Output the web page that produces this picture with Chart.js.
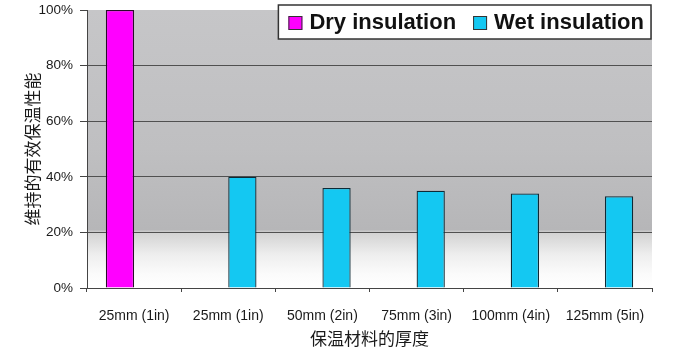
<!DOCTYPE html>
<html>
<head>
<meta charset="utf-8">
<script src="https://cdn.jsdelivr.net/npm/chart.js@4"></script>
<style>
  html, body { margin: 0; padding: 0; background: #ffffff; }
  #wrap { width: 680px; height: 356px; position: relative; }
</style>
</head>
<body>
<div id="wrap"><canvas id="c" width="680" height="356"></canvas></div>
<script>
// ---- data ----
const categories = ["25mm (1in)", "25mm (1in)", "50mm (2in)", "75mm (3in)", "100mm (4in)", "125mm (5in)"];
const dryLabel = "Dry insulation";
const wetLabel = "Wet insulation";
const dryValues = [100, null, null, null, null, null];
const wetValues = [null, 40, 36, 35, 34, 33];
const yTickValues = [0, 20, 40, 60, 80, 100];
const yTitle = "维持的有效保温性能";
const xTitle = "保温材料的厚度";

const tickFont = '"Liberation Sans", Arial, sans-serif';

// ---- plugins ----
const plotBackground = {
  id: 'plotBackground',
  beforeDraw(chart) {
    const {ctx, chartArea: a} = chart;
    const g = ctx.createLinearGradient(0, a.top, 0, a.bottom);
    g.addColorStop(0, '#c6c6c8');
    g.addColorStop(0.5, '#bfbfc1');
    g.addColorStop(0.79, '#b6b6b8');
    g.addColorStop(0.80, '#d2d2d2');
    g.addColorStop(0.88, '#eeeeee');
    g.addColorStop(0.95, '#fbfbfb');
    g.addColorStop(1, '#ffffff');
    ctx.save();
    ctx.fillStyle = g;
    ctx.fillRect(a.left, a.top, a.right - a.left, a.bottom - a.top);
    ctx.restore();
  }
};

const boxedLegend = {
  id: 'boxedLegend',
  afterDraw(chart) {
    const {ctx, chartArea: a} = chart;
    const ds = chart.data.datasets;
    ctx.save();
    ctx.font = 'bold 22px "Liberation Sans", Arial, sans-serif';
    const sw = 14, padL = 10, gapST = 7, gapItems = 17, padR = 7;
    const widths = ds.map(d => ctx.measureText(d.label).width);
    let total = padL + padR;
    ds.forEach((d, i) => { total += sw + gapST + widths[i]; if (i > 0) total += gapItems; });
    const right = a.right - 1;
    const left = right - total;
    const top = 5, bottom = 39;
    ctx.fillStyle = '#ffffff';
    ctx.fillRect(left, top, right - left, bottom - top);
    ctx.strokeStyle = '#333333';
    ctx.lineWidth = 1.5;
    ctx.strokeRect(left, top, right - left, bottom - top);
    let x = left + padL;
    const cy = 23;
    ds.forEach((d, i) => {
      ctx.fillStyle = d.backgroundColor;
      ctx.fillRect(x, cy - 7, sw, sw);
      ctx.strokeStyle = '#333333';
      ctx.lineWidth = 1;
      ctx.strokeRect(x + 0.5, cy - 6.5, sw - 1, sw - 1);
      x += sw + gapST;
      ctx.fillStyle = '#111111';
      ctx.textBaseline = 'middle';
      ctx.textAlign = 'left';
      ctx.fillText(d.label, x, cy);
      x += widths[i] + gapItems;
    });
    ctx.restore();
  }
};

new Chart(document.getElementById('c'), {
  type: 'bar',
  data: {
    labels: categories,
    datasets: [
      { label: dryLabel, data: dryValues, backgroundColor: '#ff00ff', borderColor: '#2a0a2a', borderWidth: 1.3 },
      { label: wetLabel, data: wetValues, backgroundColor: '#14c8f2', borderColor: '#0e2a36', borderWidth: 1.3 }
    ]
  },
  options: {
    responsive: false,
    animation: false,
    devicePixelRatio: 1,
    categoryPercentage: 0.6,
    barPercentage: 1.0,
    layout: { padding: { left: 0, right: 28, top: 0, bottom: 0 } },
    plugins: {
      legend: { display: false },
      tooltip: { enabled: false }
    },
    scales: {
      x: {
        grid: { display: true, drawOnChartArea: false, drawTicks: true, tickLength: 4, tickColor: '#444444', offset: true },
        border: { display: true, color: '#444444', width: 1 },
        ticks: { color: '#1a1a1a', font: { family: tickFont, size: 14 }, padding: 16, maxRotation: 0, autoSkip: false },
        title: { display: true, text: xTitle, color: '#1a1a1a', font: { family: '"Noto Sans CJK SC", sans-serif', size: 17 }, padding: { top: 0, bottom: 7 } },
        afterFit(scale) { scale.height = 68; }
      },
      y: {
        min: 0, max: 100,
        afterBuildTicks(scale) { scale.ticks = yTickValues.map(v => ({ value: v })); },
        grid: {
          color: (c) => (c.tick && c.tick.value === 100) ? 'rgba(0,0,0,0)' : '#505050',
          lineWidth: 1, drawTicks: true, tickLength: 7, tickColor: '#444444'
        },
        border: { display: true, color: '#444444', width: 1 },
        ticks: { color: '#1a1a1a', font: { family: tickFont, size: 13.5 }, padding: 7, callback: (v) => v + '%' },
        title: { display: true, text: yTitle, color: '#1a1a1a', font: { family: '"Noto Sans CJK SC", sans-serif', size: 17 }, padding: { top: 22, bottom: 0 } },
        afterFit(scale) { scale.width = 87; scale.paddingTop = 10; }
      }
    }
  },
  plugins: [plotBackground, boxedLegend]
});
</script>
</body>
</html>
